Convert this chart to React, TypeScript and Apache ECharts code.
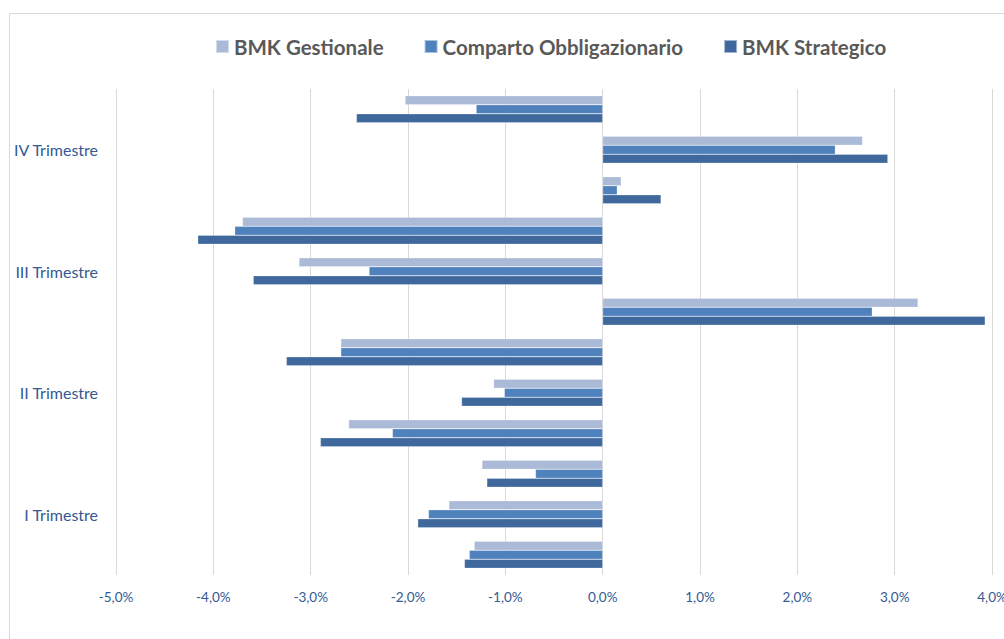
import React, { useEffect, useRef } from "react";
import * as echarts from "echarts";

// Monthly periods, bottom to top; quarter labels sit on the middle month
const months = ["Gen", "Feb", "Mar", "Apr", "Mag", "Giu", "Lug", "Ago", "Set", "Ott", "Nov", "Dic"];
const quarters = ["I Trimestre", "II Trimestre", "III Trimestre", "IV Trimestre"];

// Monthly returns (%)
const bmkGestionale = [-1.32, -1.58, -1.24, -2.61, -1.12, -2.69, 3.24, -3.12, -3.70, 0.19, 2.67, -2.03];
const compartoObbligazionario = [-1.37, -1.79, -0.69, -2.16, -1.01, -2.69, 2.77, -2.40, -3.78, 0.15, 2.39, -1.30];
const bmkStrategico = [-1.42, -1.90, -1.19, -2.90, -1.45, -3.25, 3.93, -3.59, -4.16, 0.60, 2.93, -2.53];

const seriesNames = ["BMK Gestionale", "Comparto Obbligazionario", "BMK Strategico"];
const colors = ["#abbad7", "#4f81bd", "#3f699d"];

const FONT = "Lato, 'Open Sans', sans-serif";

export default function App() {
  const ref = useRef<HTMLDivElement>(null);

  useEffect(() => {
    if (!ref.current) return;
    document.body.style.margin = "0";
    document.body.style.overflow = "hidden";
    const chart = echarts.init(ref.current, undefined, { renderer: "svg" });
    const values = [bmkGestionale, compartoObbligazionario, bmkStrategico];

    chart.setOption({
      animation: false,
      backgroundColor: "#ffffff",
      textStyle: { fontFamily: FONT },
      graphic: [
        {
          type: "rect",
          shape: { x: 9.5, y: 13.5, width: 1100, height: 700 },
          style: { fill: "none", stroke: "#d9d9d9", lineWidth: 1 },
          silent: true,
        },
      ],
      legend: {
        top: 31,
        left: 210,
        itemWidth: 13,
        itemHeight: 13,
        itemGap: 40,
        icon: "rect",
        data: seriesNames,
        textStyle: { fontFamily: FONT, fontSize: 20.5, fontWeight: "bold", color: "#595959" },
      },
      grid: {
        left: 116,
        right: 12,
        top: 89,
        bottom: 64,
        containLabel: false,
        outerBoundsMode: "none",
      },
      xAxis: {
        type: "value",
        min: -5,
        max: 4,
        interval: 1,
        axisLine: { show: false },
        axisTick: { show: false },
        splitLine: { show: true, lineStyle: { color: "#d9d9d9", width: 1 } },
        axisLabel: {
          margin: 15,
          color: "#335a93",
          fontSize: 13.5,
          fontFamily: FONT,
          formatter: (v: number) => v.toFixed(1).replace(".", ",") + "%",
        },
      },
      yAxis: {
        type: "category",
        data: months,
        axisLine: { show: false },
        axisTick: { show: false },
        splitLine: { show: false },
        axisLabel: {
          interval: 0,
          margin: 18,
          color: "#335a93",
          fontSize: 16,
          fontFamily: FONT,
          formatter: (_v: string, idx: number) => (idx % 3 === 1 ? quarters[Math.floor(idx / 3)] : ""),
        },
      },
      series: seriesNames.map((name, i) => ({
        name,
        type: "bar",
        data: values[i],
        barWidth: 9,
        barGap: "0%",
        itemStyle: { color: colors[i], borderColor: "rgba(255,255,255,0.5)", borderWidth: 0.5 },
      })),
    });

    return () => chart.dispose();
  }, []);

  return (
    <div
      ref={ref}
      style={{ position: "absolute", left: 0, top: 0, width: 1004, height: 639 }}
    />
  );
}
